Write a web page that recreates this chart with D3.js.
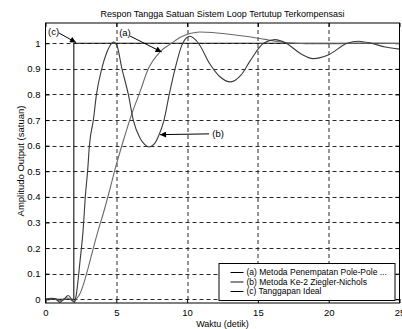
<!DOCTYPE html>
<html>
<head>
<meta charset="utf-8">
<script src="https://cdn.jsdelivr.net/npm/d3@7"></script>
<style>
  body { margin: 0; background: #fff; }
  svg { display: block; font-family: "Liberation Sans", Arial, sans-serif; }
  .grid line { stroke: #2a2a2a; stroke-dasharray: 4,3; stroke-width: 1; }
  .axis path { display: none; }
  .axis line { stroke: #000; }
  .axis text { font-size: 9.5px; fill: #000; }
</style>
</head>
<body>
<svg width="402" height="329"></svg>
<script>
// (a) Metoda Penempatan Pole-Pole (slow response)
const timeA = [0, 0.5, 1.0, 1.5, 2.0, 2.2, 2.44, 2.8, 3.0, 3.38, 3.7, 4.08, 4.5, 4.9, 5.5, 6.1, 6.67, 7.26, 8.1, 8.9, 9.6, 10.2, 10.9, 11.8, 12.8, 14.4, 15.5, 16.5, 17.7, 19.0, 20.5, 22.0, 23.5, 25];
const respA = [0, 0.003, -0.006, 0.006, -0.008, 0.003, 0.023, 0.08, 0.12, 0.2, 0.265, 0.335, 0.42, 0.505, 0.62, 0.725, 0.81, 0.9, 0.967, 1.0, 1.025, 1.038, 1.044, 1.042, 1.036, 1.025, 1.015, 1.006, 1.0, 0.998, 0.998, 1.0, 1.0, 0.999];

// (b) Metoda Ke-2 Ziegler-Nichols (oscillating response)
const timeB = [0, 0.4, 0.7, 1.0, 1.3, 1.6, 1.85, 2.05, 2.15, 2.44, 2.67, 2.81, 2.98, 3.1, 3.38, 3.6, 3.97, 4.3, 4.55, 4.8, 5.05, 5.4, 5.85, 6.2, 6.67, 7.0, 7.3, 7.65, 8.0, 8.37, 8.74, 9.15, 9.69, 10.2, 10.8, 11.6, 12.3, 13.08, 13.8, 14.44, 15.4, 16.2, 17.0, 18.0, 18.9, 20.0, 21.3, 22.1, 23.0, 24.0, 25];
const respB = [0, 0.004, 0.003, -0.012, 0, 0.015, 0, -0.012, 0.01, 0.15, 0.28, 0.4, 0.505, 0.6, 0.7, 0.8, 0.9, 0.96, 0.99, 1.005, 0.99, 0.9, 0.8, 0.7, 0.63, 0.605, 0.595, 0.605, 0.64, 0.7, 0.8, 0.9, 1.0, 1.027, 1.0, 0.92, 0.87, 0.849, 0.875, 0.93, 1.0, 1.014, 1.0, 0.96, 0.94, 0.955, 1.0, 1.008, 1.0, 0.985, 0.977];

// (c) Tanggapan Ideal (delayed unit step)
const timeC = [0, 2, 2, 25];
const respC = [0, 0, 1, 1];

const xTicks = [0, 5, 10, 15, 20, 25];
const yTicks = [0, 0.1, 0.2, 0.3, 0.4, 0.5, 0.6, 0.7, 0.8, 0.9, 1];

const legendLabels = ["(a) Metoda Penempatan Pole-Pole ...", "(b) Metoda Ke-2 Ziegler-Nichols", "(c) Tanggapan Ideal"];

// annotation labels: text anchor and arrow from/to in data units
const notes = [
  {label: "(c)", tx: 0.18, ty: 1.044, x1: 0.95, y1: 1.04, x2: 2.15, y2: 1.003},
  {label: "(a)", tx: 5.2, ty: 1.04, x1: 5.97, y1: 1.028, x2: 8.2, y2: 0.966},
  {label: "(b)", tx: 11.78, ty: 0.646, x1: 11.55, y1: 0.646, x2: 8.09, y2: 0.643}
];

let svg = d3.select("svg"),
    margin = {top: 23, right: 2.5, bottom: 26, left: 45.5},
    width = +svg.attr("width") - margin.left - margin.right,
    height = +svg.attr("height") - margin.top - margin.bottom;

let g = svg.append("g")
  .attr("transform", "translate(" + margin.left + "," + margin.top + ")");

let x = d3.scaleLinear().domain([0, 25]).range([0, width]);
let y = d3.scaleLinear().domain([-0.0145, 1.079]).range([height, 0]);

// grid
g.append("g").attr("class", "grid")
  .selectAll("line").data(yTicks).enter().append("line")
    .attr("x1", 0).attr("x2", width)
    .attr("y1", d => Math.round(y(d)) + 0.5).attr("y2", d => Math.round(y(d)) + 0.5);
g.append("g").attr("class", "grid")
  .selectAll("line").data(xTicks.slice(1, -1)).enter().append("line")
    .attr("y1", 0).attr("y2", height)
    .attr("x1", d => Math.round(x(d)) + 0.5).attr("x2", d => Math.round(x(d)) + 0.5);

// axes, ticks pointing inward
g.append("g")
    .attr("class", "axis axis--x")
    .attr("transform", "translate(0," + height + ")")
    .call(d3.axisBottom(x).tickValues(xTicks).tickSize(-4).tickPadding(6).tickFormat(d3.format("d")));
g.append("g")
    .attr("class", "axis axis--x2")
    .call(d3.axisTop(x).tickValues(xTicks).tickSize(-4).tickFormat(""));
g.append("g")
    .attr("class", "axis axis--y")
    .call(d3.axisLeft(y).tickValues(yTicks).tickSize(-4).tickPadding(5).tickFormat(d => d3.format("~g")(d)));
g.append("g")
    .attr("class", "axis axis--y2")
    .attr("transform", "translate(" + width + ",0)")
    .call(d3.axisRight(y).tickValues(yTicks).tickSize(-4).tickFormat(""));

// curves
let line = d3.line()
    .x(d => x(d[0]))
    .y(d => y(d[1]))
    .curve(d3.curveMonotoneX);

g.append("path")
    .datum(d3.zip(timeC, respC))
    .attr("fill", "none").attr("stroke", "#111").attr("stroke-width", 1.1)
    .attr("d", line.curve(d3.curveLinear));

g.append("path")
    .datum(d3.zip(timeA, respA))
    .attr("fill", "none").attr("stroke", "#6a6a6a").attr("stroke-width", 1.1)
    .attr("d", line.curve(d3.curveMonotoneX));

g.append("path")
    .datum(d3.zip(timeB, respB))
    .attr("fill", "none").attr("stroke", "#3a3a3a").attr("stroke-width", 1.1)
    .attr("d", line.curve(d3.curveMonotoneX));

// box
g.append("rect")
    .attr("x", 0).attr("y", 0).attr("width", width).attr("height", height)
    .attr("fill", "none").attr("stroke", "#000").attr("stroke-width", 1);

// annotations
svg.append("defs").append("marker")
    .attr("id", "arrow")
    .attr("viewBox", "0 0 10 10")
    .attr("refX", 10).attr("refY", 5)
    .attr("markerWidth", 8).attr("markerHeight", 6)
    .attr("markerUnits", "userSpaceOnUse")
    .attr("orient", "auto")
  .append("path")
    .attr("d", "M0,0L10,5L0,10z")
    .attr("fill", "#000");

let note = g.append("g").selectAll("g").data(notes).enter().append("g");
note.append("line")
    .attr("x1", d => x(d.x1)).attr("y1", d => y(d.y1))
    .attr("x2", d => x(d.x2)).attr("y2", d => y(d.y2))
    .attr("stroke", "#000").attr("stroke-width", 1)
    .attr("marker-end", "url(#arrow)");
note.append("text")
    .attr("x", d => x(d.tx)).attr("y", d => y(d.ty))
    .attr("dy", ".35em")
    .style("font-size", "9.5px")
    .text(d => d.label);

// legend
let legend = g.append("g")
    .attr("transform", "translate(" + (width - 181) + "," + (height - 40) + ")");
legend.append("rect")
    .attr("x", 0.5).attr("y", 0.5).attr("width", 176).attr("height", 37)
    .attr("fill", "#fff").attr("stroke", "#000");
let legendColors = ["#000", "#8a8a8a", "#000"];
let legendWidths = [1, 2, 1];
let item = legend.selectAll(".item").data(legendLabels).enter().append("g")
    .attr("transform", (d, i) => "translate(0," + (9.5 + i * 9.5) + ")");
item.append("line")
    .attr("x1", 12).attr("x2", 25).attr("y1", 0).attr("y2", 0)
    .attr("stroke", (d, i) => legendColors[i])
    .attr("stroke-width", (d, i) => legendWidths[i]);
item.append("text")
    .attr("x", 28).attr("dy", ".35em")
    .style("font-size", "8.5px")
    .text(d => d);

// titles
svg.append("text")
    .attr("x", margin.left + width / 2).attr("y", 17)
    .attr("text-anchor", "middle")
    .style("font-size", "9px")
    .text("Respon Tangga Satuan Sistem Loop Tertutup Terkompensasi");
svg.append("text")
    .attr("x", margin.left + width / 2).attr("y", 327)
    .attr("text-anchor", "middle")
    .style("font-size", "9px")
    .text("Waktu (detik)");
svg.append("text")
    .attr("transform", "translate(24," + (margin.top + height / 2 - 2) + ") rotate(-90)")
    .attr("text-anchor", "middle")
    .style("font-size", "9.5px")
    .text("Amplitudo Output (satuan)");
</script>
</body>
</html>
